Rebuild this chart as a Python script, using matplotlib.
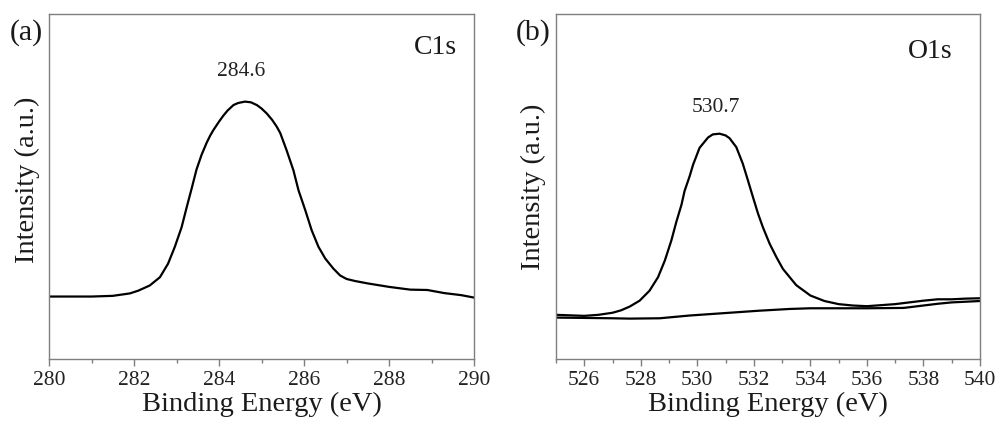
import matplotlib
matplotlib.use("Agg")
import matplotlib.pyplot as plt
from matplotlib.ticker import MultipleLocator

# C1s spectrum (panel a)
c1s_energy = [280.0, 281.0, 281.5, 281.9, 282.1, 282.37, 282.61, 282.80, 282.96, 283.12,
              283.24, 283.36, 283.47, 283.59, 283.71, 283.79, 283.87, 284.0, 284.10, 284.2,
              284.34, 284.45, 284.61, 284.75, 284.89, 285.0, 285.12, 285.25, 285.36, 285.44,
              285.59, 285.75, 285.87, 286.03, 286.18, 286.34, 286.50, 286.69, 286.85, 287.0,
              287.2, 287.5, 287.8, 288.0, 288.5, 288.9, 289.3, 289.7, 290.0]
c1s_intensity = [0.181, 0.181, 0.183, 0.190, 0.198, 0.213, 0.237, 0.276, 0.325, 0.382,
                 0.440, 0.496, 0.549, 0.592, 0.627, 0.647, 0.664, 0.688, 0.705, 0.720,
                 0.736, 0.742, 0.746, 0.744, 0.736, 0.726, 0.712, 0.693, 0.673, 0.655,
                 0.605, 0.547, 0.489, 0.431, 0.373, 0.325, 0.291, 0.262, 0.242, 0.232,
                 0.226, 0.219, 0.213, 0.209, 0.201, 0.200, 0.191, 0.185, 0.178]

# O1s spectrum (panel b)
o1s_energy = [525.0, 526.0, 526.5, 527.0, 527.3, 527.61, 527.96, 528.31, 528.61, 528.85,
              529.08, 529.26, 529.44, 529.55, 529.73, 529.85, 530.08, 530.38, 530.55, 530.79,
              531.0, 531.14, 531.38, 531.61, 531.79, 531.97, 532.15, 532.32, 532.56, 532.80,
              533.03, 533.27, 533.5, 534.0, 534.5, 535.0, 535.5, 536.0, 536.5, 537.0,
              537.5, 538.0, 538.5, 539.0, 539.5, 540.0]
o1s_intensity = [0.128, 0.125, 0.128, 0.134, 0.141, 0.152, 0.169, 0.198, 0.237, 0.285,
                 0.343, 0.398, 0.447, 0.487, 0.530, 0.563, 0.612, 0.642, 0.651, 0.653,
                 0.648, 0.640, 0.614, 0.566, 0.518, 0.469, 0.421, 0.382, 0.334, 0.295,
                 0.261, 0.237, 0.214, 0.184, 0.168, 0.159, 0.155, 0.153, 0.156, 0.159,
                 0.164, 0.169, 0.173, 0.173, 0.175, 0.176]

# O1s background
bg_energy = [525.0, 526.0, 527.0, 527.61, 528.67, 529.73, 531.14, 532.2, 533.27, 534.0,
             535.0, 536.0, 537.3, 538.0, 538.5, 539.0, 540.0]
bg_intensity = [0.120, 0.119, 0.118, 0.117, 0.118, 0.126, 0.134, 0.140, 0.145, 0.147,
                0.147, 0.147, 0.148, 0.155, 0.160, 0.164, 0.168]

plt.rcParams["font.family"] = ["Liberation Serif", "DejaVu Serif"]

fig = plt.figure(figsize=(9.98, 4.21), dpi=100)
ax_a = fig.add_axes([0.0491, 0.1473, 0.4259, 0.8195])
ax_b = fig.add_axes([0.5571, 0.1473, 0.4248, 0.8195])

spine_color = "#7f7f7f"


def style_axes(ax, xlim):
    ax.set_xlim(*xlim)
    ax.set_ylim(0, 1)
    for sp in ax.spines.values():
        sp.set_color(spine_color)
        sp.set_linewidth(1.0)
    ax.set_yticks([])
    ax.xaxis.set_major_locator(MultipleLocator(2))
    ax.xaxis.set_minor_locator(MultipleLocator(1))
    ax.tick_params(axis="x", which="major", direction="out", length=5, width=1.0,
                   color=spine_color, labelsize=15.5, labelcolor="#222222", pad=4)
    ax.tick_params(axis="x", which="minor", direction="out", length=3, width=1.0,
                   color=spine_color)
    ax.set_xlabel("Binding Energy (eV)", fontsize=20.5, labelpad=1, color="#1a1a1a")
    ax.set_ylabel("Intensity (a.u.)", fontsize=20.5, color="#1a1a1a")


ax_a.plot(c1s_energy, c1s_intensity, color="black", linewidth=1.6)
style_axes(ax_a, (280, 290))
ax_a.yaxis.set_label_coords(-0.022, 0.52)
ax_a.text(284.52, 0.832, "284.6", ha="center", va="center", fontsize=15.5, color="#222222")
ax_a.text(0.909, 0.904, "C1s", transform=ax_a.transAxes, ha="center", va="center",
          fontsize=20, color="#1a1a1a")

ax_b.plot(o1s_energy, o1s_intensity, color="black", linewidth=1.6)
ax_b.plot(bg_energy, bg_intensity, color="black", linewidth=1.6)
style_axes(ax_b, (525, 540))
ax_b.yaxis.set_label_coords(-0.024, 0.50)
ax_b.text(530.66, 0.73, "530.7", ha="center", va="center", fontsize=15.5, color="#222222")
ax_b.text(0.882, 0.89, "O1s", transform=ax_b.transAxes, ha="center", va="center",
          fontsize=20, color="#1a1a1a")

fig.text(26 / 998, 1 - 33 / 421, "(a)", ha="center", va="center", fontsize=21.5, color="#1a1a1a")
fig.text(533 / 998, 1 - 33 / 421, "(b)", ha="center", va="center", fontsize=21.5, color="#1a1a1a")

fig.savefig("out.png", dpi=100)
